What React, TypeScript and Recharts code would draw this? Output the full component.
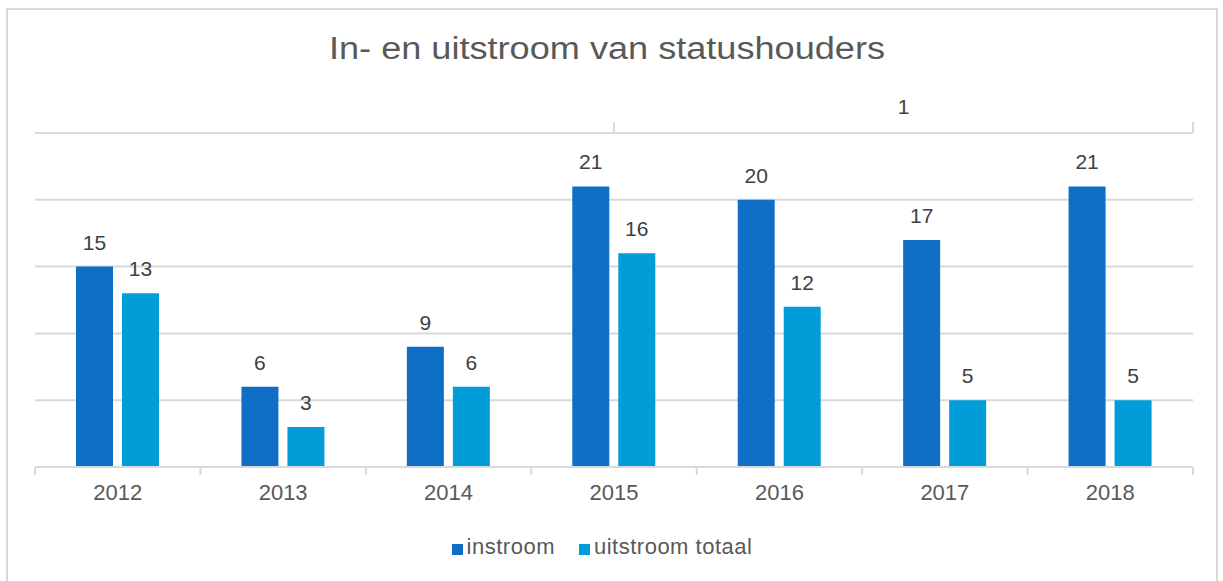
import React from 'react';
import { BarChart, Bar, XAxis, YAxis, CartesianGrid, Legend, LabelList } from 'recharts';

const years = ['2012', '2013', '2014', '2015', '2016', '2017', '2018'];
const instroom = [15, 6, 9, 21, 20, 17, 21];
const uitstroom = [13, 3, 6, 16, 12, 5, 5];
const topTicks = [3, 4.5, 6];
const topTickLabels: Record<string, string> = { '4.5': '1' };

const data = years.map((y, i) => ({ year: y, instroom: instroom[i], uitstroom: uitstroom[i] }));

const GRID = '#d9d9d9';
const FONT = '"Liberation Sans", Arial, sans-serif';
const TICK_SIZE = 8;
const TICK_MARGIN = 9;

const CatTick = (props: any) => {
  const { x, y, payload, index, visibleTicksCount, width } = props;
  const half = payload && payload.offset != null ? payload.offset : width / visibleTicksCount / 2;
  const y0 = y - TICK_SIZE - TICK_MARGIN;
  const y1 = y0 + TICK_SIZE;
  return (
    <g>
      <line x1={x - half} x2={x - half} y1={y0} y2={y1} stroke={GRID} strokeWidth={2} />
      {index === visibleTicksCount - 1 && (
        <line x1={x + half} x2={x + half} y1={y0} y2={y1} stroke={GRID} strokeWidth={2} />
      )}
      <text x={x} y={y} dy="0.71em" textAnchor="middle" fontSize={22} fill="#595959" fontFamily={FONT}>
        {payload.value}
      </text>
    </g>
  );
};

const TopTick = (props: any) => {
  const { x, y, payload } = props;
  const label = topTickLabels[String(payload.value)];
  if (label) {
    return (
      <text x={x} y={y - 19} textAnchor="middle" fontSize={21} fill="#404040" fontFamily={FONT}>
        {label}
      </text>
    );
  }
  return <line x1={x} x2={x} y1={y} y2={y - 11} stroke={GRID} strokeWidth={2} />;
};

export default function App() {
  return (
    <div style={{ position: 'absolute', left: 0, top: 0, width: 1223, height: 581, overflow: 'hidden', background: '#fff', fontFamily: FONT }}>
      <div style={{ position: 'absolute', left: 6, top: 8, width: 1212, height: 700, border: '2px solid #d9d9d9', boxSizing: 'border-box' }} />
      <svg style={{ position: 'absolute', left: 0, top: 0 }} width={1223} height={100}>
        <text x={607} y={59} textAnchor="middle" fontSize={31} fill="#595959" fontFamily={FONT} textLength={556} lengthAdjust="spacingAndGlyphs">
          In- en uitstroom van statushouders
        </text>
      </svg>
      <div style={{ position: 'absolute', left: 0, top: 0 }}>
        <BarChart width={1223} height={581} data={data} margin={{ top: 132, right: 30, left: 35, bottom: 48 }} barSize={37} barGap={9}>
          <CartesianGrid xAxisId="cat" vertical={false} stroke={GRID} strokeWidth={2} />
          <XAxis
            xAxisId="cat"
            dataKey="year"
            height={40}
            axisLine={{ stroke: GRID, strokeWidth: 2 }}
            tickLine={false}
            tickSize={TICK_SIZE}
            tickMargin={TICK_MARGIN}
            tick={<CatTick />}
            interval={0}
          />
          <XAxis
            xAxisId="top"
            type="number"
            orientation="top"
            domain={[0, 6]}
            ticks={topTicks}
            height={1}
            axisLine={false}
            tickLine={false}
            tickSize={0}
            tickMargin={0}
            tick={<TopTick />}
            allowDataOverflow
          />
          <YAxis hide domain={[0, 25]} ticks={[0, 5, 10, 15, 20, 25]} />
          <Legend
            verticalAlign="bottom"
            iconType="square"
            iconSize={11}
            wrapperStyle={{ bottom: 21 }}
            formatter={(value: string) => (
              <span style={{ color: '#595959', fontSize: 22, letterSpacing: 0.5, marginRight: 14 }}>{value}</span>
            )}
          />
          <Bar xAxisId="cat" dataKey="instroom" name="instroom" fill="#0F6FC6" isAnimationActive={false}>
            <LabelList dataKey="instroom" position="top" offset={17} fill="#404040" fontSize={21} fontFamily={FONT} />
          </Bar>
          <Bar xAxisId="cat" dataKey="uitstroom" name="uitstroom totaal" fill="#009DD9" isAnimationActive={false}>
            <LabelList dataKey="uitstroom" position="top" offset={17} fill="#404040" fontSize={21} fontFamily={FONT} />
          </Bar>
        </BarChart>
      </div>
    </div>
  );
}
